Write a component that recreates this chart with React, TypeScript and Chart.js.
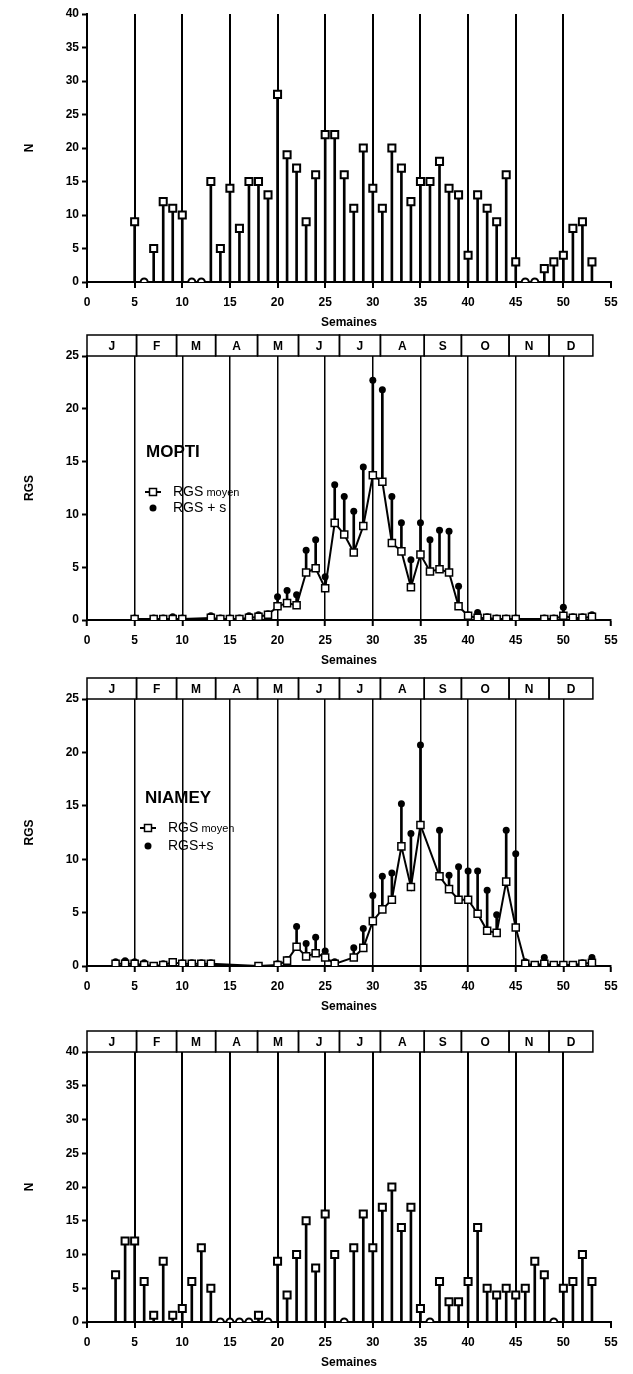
import React, { useEffect, useRef } from 'react';
import { Chart, registerables } from 'chart.js';
Chart.register(...registerables);

const FF = '"Liberation Sans", Arial, Helvetica, sans-serif';

// Month boxes (edges expressed in week units)
const monthLabels = ['J', 'F', 'M', 'A', 'M', 'J', 'J', 'A', 'S', 'O', 'N', 'D'];
const monthEdges = [0, 5.2, 9.4, 13.5, 17.9, 22.2, 26.5, 30.8, 35.4, 39.3, 44.3, 48.5, 53.1];

// Panel 1 : N per week
const n1Weeks = [5, 6, 7, 8, 9, 10, 11, 12, 13, 14, 15, 16, 17, 18, 19, 20, 21, 22, 23, 24, 25, 26, 27, 28, 29, 30, 31, 32, 33, 34, 35, 36, 37, 38, 39, 40, 41, 42, 43, 44, 45, 46, 47, 48, 49, 50, 51, 52, 53];
const n1Values = [9, 0, 5, 12, 11, 10, 0, 0, 15, 5, 14, 8, 15, 15, 13, 28, 19, 17, 9, 16, 22, 22, 16, 11, 20, 14, 11, 20, 17, 12, 15, 15, 18, 14, 13, 4, 13, 11, 9, 16, 3, 0, 0, 2, 3, 4, 8, 9, 3];

// Panel 2 : MOPTI
const moptiWeeks = [5, 7, 8, 9, 10, 13, 14, 15, 16, 17, 18, 19, 20, 21, 22, 23, 24, 25, 26, 27, 28, 29, 30, 31, 32, 33, 34, 35, 36, 37, 38, 39, 40, 41, 42, 43, 44, 45, 48, 49, 50, 51, 52, 53];
const moptiMean = [0.1, 0.1, 0.1, 0.1, 0.1, 0.2, 0.1, 0.1, 0.1, 0.2, 0.3, 0.5, 1.3, 1.6, 1.4, 4.5, 4.9, 3.0, 9.2, 8.1, 6.4, 8.9, 13.7, 13.1, 7.3, 6.5, 3.1, 6.2, 4.6, 4.8, 4.5, 1.3, 0.4, 0.2, 0.2, 0.1, 0.1, 0.1, 0.1, 0.1, 0.4, 0.2, 0.2, 0.3];
const moptiPlus = [0.2, 0.2, 0.2, 0.3, 0.2, 0.4, 0.2, 0.2, 0.2, 0.4, 0.5, 0.6, 2.2, 2.8, 2.4, 6.6, 7.6, 4.1, 12.8, 11.7, 10.3, 14.5, 22.7, 21.8, 11.7, 9.2, 5.7, 9.2, 7.6, 8.5, 8.4, 3.2, 0.5, 0.7, 0.3, 0.2, 0.2, 0.2, 0.2, 0.2, 1.2, 0.3, 0.3, 0.5];

// Panel 3 : NIAMEY
const niameyWeeks = [3, 4, 5, 6, 7, 8, 9, 10, 11, 12, 13, 18, 20, 21, 22, 23, 24, 25, 26, 28, 29, 30, 31, 32, 33, 34, 35, 37, 38, 39, 40, 41, 42, 43, 44, 45, 46, 47, 48, 49, 50, 51, 52, 53];
const niameyMean = [0.2, 0.2, 0.2, 0.1, 0.0, 0.1, 0.35, 0.2, 0.2, 0.2, 0.2, 0.0, 0.1, 0.5, 1.8, 0.9, 1.2, 0.8, 0.2, 0.8, 1.7, 4.2, 5.3, 6.2, 11.2, 7.4, 13.2, 8.4, 7.2, 6.2, 6.2, 4.9, 3.3, 3.1, 7.9, 3.6, 0.2, 0.1, 0.2, 0.1, 0.1, 0.1, 0.2, 0.3];
const niameyPlus = [0.4, 0.5, 0.4, 0.3, 0.0, 0.2, 0.35, 0.3, 0.3, 0.3, 0.3, 0.0, 0.2, 0.6, 3.7, 2.1, 2.7, 1.4, 0.4, 1.7, 3.5, 6.6, 8.4, 8.7, 15.2, 12.4, 20.7, 12.7, 8.5, 9.3, 8.9, 8.9, 7.1, 4.8, 12.7, 10.5, 0.4, 0.1, 0.8, 0.1, 0.1, 0.1, 0.3, 0.8];

// Panel 4 : N per week
const n2Weeks = [3, 4, 5, 6, 7, 8, 9, 10, 11, 12, 13, 14, 15, 16, 17, 18, 19, 20, 21, 22, 23, 24, 25, 26, 27, 28, 29, 30, 31, 32, 33, 34, 35, 36, 37, 38, 39, 40, 41, 42, 43, 44, 45, 46, 47, 48, 49, 50, 51, 52, 53];
const n2Values = [7, 12, 12, 6, 1, 9, 1, 2, 6, 11, 5, 0, 0, 0, 0, 1, 0, 9, 4, 10, 15, 8, 16, 10, 0, 11, 16, 11, 17, 20, 14, 17, 2, 0, 6, 3, 3, 6, 14, 5, 4, 5, 4, 5, 9, 7, 0, 5, 6, 10, 6];

const decorPlugin = {
  id: 'decor',
  afterDraw(chart: any, _args: any, opts: any) {
    const { ctx, chartArea: ca } = chart;
    const x = chart.scales.x;
    ctx.save();
    if (opts.months) {
      const h = 21;
      ctx.strokeStyle = '#000';
      ctx.lineWidth = 1.5;
      ctx.fillStyle = '#000';
      ctx.font = `bold 12px ${FF}`;
      ctx.textAlign = 'center';
      ctx.textBaseline = 'middle';
      for (let i = 0; i < monthLabels.length; i++) {
        const x0 = x.getPixelForValue(monthEdges[i]);
        const x1 = x.getPixelForValue(monthEdges[i + 1]);
        ctx.strokeRect(x0, ca.top - h, x1 - x0, h);
        ctx.fillText(monthLabels[i], (x0 + x1) / 2, ca.top - h / 2 + 1);
      }
    }
    if (opts.site) {
      const s = opts.site;
      ctx.fillStyle = '#000';
      ctx.textAlign = 'left';
      ctx.textBaseline = 'middle';
      ctx.font = `bold 17px ${FF}`;
      ctx.fillText(s.name, ca.left + s.dx, ca.top + s.dy);
      const sx = ca.left + s.symX;
      const y1 = ca.top + s.dy1;
      const y2 = ca.top + s.dy2;
      ctx.strokeStyle = '#000';
      ctx.lineWidth = 2;
      ctx.beginPath();
      ctx.moveTo(sx - 8, y1);
      ctx.lineTo(sx + 8, y1);
      ctx.stroke();
      ctx.fillStyle = '#fff';
      ctx.lineWidth = 1.5;
      ctx.fillRect(sx - 3.5, y1 - 3.5, 7, 7);
      ctx.strokeRect(sx - 3.5, y1 - 3.5, 7, 7);
      ctx.fillStyle = '#000';
      ctx.beginPath();
      ctx.arc(sx, y2, 3.5, 0, Math.PI * 2);
      ctx.fill();
      const tx = ca.left + s.textX;
      ctx.font = `14px ${FF}`;
      ctx.fillText('RGS', tx, y1);
      const w = ctx.measureText('RGS').width;
      ctx.font = `11px ${FF}`;
      ctx.fillText(' moyen', tx + w, y1 + 1);
      ctx.font = `14px ${FF}`;
      ctx.fillText(s.plus, tx, y2);
    }
    ctx.restore();
  },
};

function makeScales(yMax: number, yTitle: string, gridW: number) {
  const font = { family: FF, size: 12, weight: 'bold' as const };
  return {
    x: {
      type: 'linear' as const,
      min: 0,
      max: 55,
      offset: false,
      ticks: { stepSize: 5, font, color: '#000', padding: 7, maxRotation: 0, autoSkip: false },
      grid: {
        offset: false,
        color: (c: any) => (c.tick && c.tick.value > 0 && c.tick.value < 55 ? '#000' : 'rgba(0,0,0,0)'),
        lineWidth: gridW,
        drawTicks: true,
        tickLength: 6,
        tickColor: '#000',
        tickWidth: 2,
      },
      border: { display: true, color: '#000', width: 2 },
      title: { display: true, text: 'Semaines', font, color: '#000', padding: { top: 0, bottom: 2 } },
      afterFit: (s: any) => { s.height = 50; },
    },
    y: {
      min: 0,
      max: yMax,
      ticks: { stepSize: 5, font, color: '#000', padding: 3 },
      grid: { drawOnChartArea: false, drawTicks: true, tickLength: 5, tickColor: '#000', tickWidth: 2, color: '#000' },
      border: { display: true, color: '#000', width: 2 },
      title: { display: true, text: yTitle, font, color: '#000', padding: { top: 22, bottom: 0 } },
      afterFit: (s: any) => { s.width = 87; },
    },
  };
}

function stemConfig(weeks: number[], values: number[], yMax: number, padTop: number, padBottom: number, months: boolean) {
  const pts = weeks.map((w, i) => ({ x: w, y: values[i] }));
  return {
    type: 'bar' as const,
    data: {
      datasets: [
        {
          type: 'line' as const,
          data: pts,
          showLine: false,
          pointStyle: (c: any) => (c.raw && c.raw.y === 0 ? 'circle' : 'rect'),
          pointRadius: (c: any) => (c.raw && c.raw.y === 0 ? 3.5 : 5),
          pointBackgroundColor: '#fff',
          pointBorderColor: '#000',
          pointBorderWidth: 2,
          order: 0,
        },
        {
          type: 'bar' as const,
          data: pts,
          backgroundColor: '#000',
          borderWidth: 0,
          barThickness: 2,
          order: 1,
        },
      ],
    },
    options: {
      responsive: false,
      animation: false as const,
      events: [],
      layout: { padding: { left: 0, right: 22, top: padTop, bottom: padBottom } },
      scales: makeScales(yMax, 'N', 2),
      plugins: { legend: { display: false }, tooltip: { enabled: false }, decor: { months } },
    },
    plugins: [decorPlugin],
  };
}

function rgsConfig(weeks: number[], mean: number[], plus: number[], padTop: number, padBottom: number, site: any) {
  const meanPts = weeks.map((w, i) => ({ x: w, y: mean[i] }));
  const plusPts = weeks.map((w, i) => ({ x: w, y: plus[i] }));
  const errPts = weeks.map((w, i) => ({ x: w, y: [mean[i], plus[i]] }));
  return {
    type: 'bar' as const,
    data: {
      datasets: [
        {
          type: 'line' as const,
          data: meanPts,
          borderColor: '#000',
          borderWidth: 2,
          pointStyle: 'rect',
          pointRadius: 5,
          pointBackgroundColor: '#fff',
          pointBorderColor: '#000',
          pointBorderWidth: 1.5,
          order: 0,
        },
        {
          type: 'line' as const,
          data: plusPts,
          showLine: false,
          pointStyle: 'circle',
          pointRadius: 3.5,
          pointBackgroundColor: '#000',
          pointBorderColor: '#000',
          pointBorderWidth: 0,
          order: 1,
        },
        {
          type: 'bar' as const,
          data: errPts,
          backgroundColor: '#000',
          borderWidth: 0,
          barThickness: 2,
          order: 2,
        },
      ],
    },
    options: {
      responsive: false,
      animation: false as const,
      events: [],
      layout: { padding: { left: 0, right: 22, top: padTop, bottom: padBottom } },
      scales: makeScales(25, 'RGS', 1.5),
      plugins: { legend: { display: false }, tooltip: { enabled: false }, decor: { months: true, site } },
    },
    plugins: [decorPlugin],
  };
}

const panels = [
  { top: 0, height: 335 },
  { top: 332, height: 340 },
  { top: 674, height: 344 },
  { top: 1024, height: 350 },
];

export default function App() {
  const r1 = useRef<HTMLCanvasElement>(null);
  const r2 = useRef<HTMLCanvasElement>(null);
  const r3 = useRef<HTMLCanvasElement>(null);
  const r4 = useRef<HTMLCanvasElement>(null);

  useEffect(() => {
    const charts: Chart[] = [];
    charts.push(new Chart(r1.current as any, stemConfig(n1Weeks, n1Values, 40, 14, 3, false) as any));
    charts.push(
      new Chart(
        r2.current as any,
        rgsConfig(moptiWeeks, moptiMean, moptiPlus, 24, 2, {
          name: 'MOPTI', dx: 59, dy: 96, symX: 66, textX: 86, dy1: 136, dy2: 152, plus: 'RGS + s',
        }) as any
      )
    );
    charts.push(
      new Chart(
        r3.current as any,
        rgsConfig(niameyWeeks, niameyMean, niameyPlus, 25, 2, {
          name: 'NIAMEY', dx: 58, dy: 99, symX: 61, textX: 81, dy1: 129, dy2: 147, plus: 'RGS+s',
        }) as any
      )
    );
    charts.push(new Chart(r4.current as any, stemConfig(n2Weeks, n2Values, 40, 28, 2, true) as any));
    return () => charts.forEach((c) => c.destroy());
  }, []);

  const refs = [r1, r2, r3, r4];
  return (
    <div style={{ position: 'absolute', left: 0, top: 0, width: 633, height: 1374, background: '#fff' }}>
      {panels.map((p, i) => (
        <canvas
          key={i}
          ref={refs[i]}
          width={633}
          height={p.height}
          style={{ position: 'absolute', left: 0, top: p.top, width: 633, height: p.height }}
        />
      ))}
    </div>
  );
}
